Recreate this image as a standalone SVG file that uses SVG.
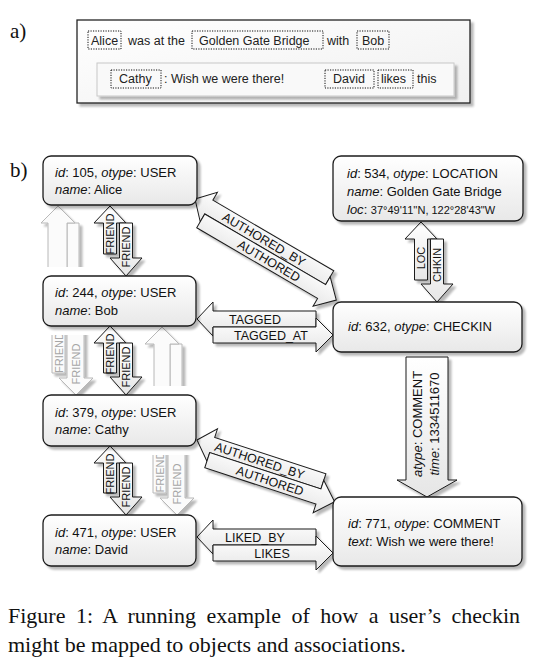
<svg xmlns="http://www.w3.org/2000/svg" width="542" height="666" viewBox="0 0 542 666">
<defs>
<linearGradient id="gN" x1="0" y1="0" x2="0" y2="1"><stop offset="0" stop-color="#ffffff"/><stop offset="1" stop-color="#e8e8e8"/></linearGradient>
<linearGradient id="gA" x1="0" y1="0" x2="0" y2="1"><stop offset="0" stop-color="#ffffff"/><stop offset="1" stop-color="#e6e6e6"/></linearGradient>
<linearGradient id="gP" x1="0" y1="0" x2="1" y2="1"><stop offset="0" stop-color="#ffffff"/><stop offset="1" stop-color="#f0f0f0"/></linearGradient>
<filter id="sh" x="-15%" y="-15%" width="140%" height="140%">
<feGaussianBlur in="SourceAlpha" stdDeviation="1.1"/>
<feOffset dx="3" dy="3"/>
<feComponentTransfer><feFuncA type="linear" slope="0.28"/></feComponentTransfer>
<feMerge><feMergeNode/><feMergeNode in="SourceGraphic"/></feMerge>
</filter>
<clipPath id="cpGU1"><rect x="30" y="190" width="60" height="77"/></clipPath>
<clipPath id="cpGU2"><rect x="135" y="320" width="60" height="66"/></clipPath>
<clipPath id="cpGD1"><rect x="40" y="335" width="65" height="70"/></clipPath>
<clipPath id="cpGD2"><rect x="140" y="455" width="65" height="70"/></clipPath>
</defs>
<style>
.nd{fill:url(#gN);stroke:#1a1a1a;stroke-width:1.3}
.nt{font-family:"Liberation Sans",Arial,sans-serif;font-size:13px;fill:#111}
.sm{font-size:11px}
.i{font-style:italic}
.arr{fill:url(#gA);stroke:#1a1a1a;stroke-width:1}
.gh{fill:#fbfbfb;stroke:#b8b8b8;stroke-width:1}
.al{font-family:"Liberation Sans",Arial,sans-serif;font-size:12.5px;fill:#111}
.fl{font-family:"Liberation Sans",Arial,sans-serif;font-size:11px;fill:#111}
.gl{fill:#a6a6a6}
.dot{fill:none;stroke:#111;stroke-width:1;stroke-dasharray:1.2 1.3}
.at{font-family:"Liberation Sans",Arial,sans-serif;font-size:12.5px;fill:#222}
.cap{font-family:"Liberation Serif","Times New Roman",serif;font-size:22px;fill:#111}
</style>

<rect width="542" height="666" fill="#ffffff"/>

<!-- panel labels -->
<text class="cap" x="10" y="38" style="font-size:21px">a)</text>
<text class="cap" x="10" y="177" style="font-size:21px">b)</text>

<!-- panel a -->
<g id="panel-a">
<rect x="77" y="20" width="393" height="83" fill="url(#gP)" stroke="#222" stroke-width="1.3" filter="url(#sh)"/>
<rect x="97" y="63" width="357" height="33" fill="#f9f9f9" stroke="#c8c8c8" stroke-width="1" filter="url(#sh)"/>
<rect class="dot" x="88" y="31" width="33" height="18"/>
<text class="at" x="91" y="45">Alice</text>
<text class="at" x="128" y="45">was at the</text>
<rect class="dot" x="192" y="31" width="131" height="18"/>
<text class="at" x="199" y="45">Golden Gate Bridge</text>
<text class="at" x="327" y="45">with</text>
<rect class="dot" x="357" y="31" width="32" height="18"/>
<text class="at" x="362" y="45">Bob</text>
<rect class="dot" x="111" y="70" width="50" height="18"/>
<text class="at" x="119" y="83">Cathy</text>
<text class="at" x="164" y="83">: Wish we were there!</text>
<rect class="dot" x="325" y="70" width="49" height="18"/>
<text class="at" x="333" y="83">David</text>
<rect class="dot" x="378" y="70" width="35" height="18"/>
<text class="at" x="381" y="83">likes</text>
<text class="at" x="417" y="83">this</text>
</g>

<!-- connectors -->
<g id="connectors">
 <!-- ghost arrows -->
 <g id="ghost-up-1" clip-path="url(#cpGU1)">
  <g filter="url(#sh)">
   <path class="gh" d="M67,223 L79,223 L79,290 L67,290 Z"/>
   <path class="gh" d="M58,206 L75,223 L67,223 L67,290 L48,290 L48,223 L41,223 Z"/>
  </g>
 </g>
 <g id="ghost-up-2" clip-path="url(#cpGU2)">
  <g filter="url(#sh)">
   <path class="gh" d="M170,344 L182,344 L182,400 L170,400 Z"/>
   <path class="gh" d="M162,327 L179,344 L170,344 L170,400 L154,400 L154,344 L145,344 Z"/>
  </g>
 </g>
 <g id="ghost-down-1" clip-path="url(#cpGD1)">
  <g filter="url(#sh)">
   <path class="gh" d="M52,320 L65,320 L65,373 L52,373 Z"/>
   <path class="gh" d="M76,395 L93,378 L84,378 L84,320 L67,320 L67,378 L59,378 Z"/>
  </g>
  <text class="fl gl" transform="translate(62.5,352.5) rotate(-90)" text-anchor="middle">FRIEND</text>
  <text class="fl gl" transform="translate(79.5,364) rotate(-90)" text-anchor="middle">FRIEND</text>
 </g>
 <g id="ghost-down-2" clip-path="url(#cpGD2)">
  <g filter="url(#sh)">
   <path class="gh" d="M153,440 L166,440 L166,493 L153,493 Z"/>
   <path class="gh" d="M177,515 L194,498 L185,498 L185,440 L168,440 L168,498 L160,498 Z"/>
  </g>
  <text class="fl gl" transform="translate(163.5,472) rotate(-90)" text-anchor="middle">FRIEND</text>
  <text class="fl gl" transform="translate(180.5,484) rotate(-90)" text-anchor="middle">FRIEND</text>
 </g>

 <!-- FRIEND Alice-Bob -->
 <g id="friend-alice-bob" transform="translate(110,206)">
  <g filter="url(#sh)">
   <path class="arr" d="M0,0 L16,17 L6.5,17 L6.5,48 L-6.5,48 L-6.5,17 L-16,17 Z"/>
   <path class="arr" d="M16,70 L32,52 L22.5,52 L22.5,17 L9.5,17 L9.5,52 L0,52 Z"/>
  </g>
  <text class="fl" transform="translate(4,28) rotate(-90)" text-anchor="middle">FRIEND</text>
  <text class="fl" transform="translate(20,41) rotate(-90)" text-anchor="middle">FRIEND</text>
 </g>
 <!-- FRIEND Bob-Cathy -->
 <g id="friend-bob-cathy" transform="translate(110,326)">
  <g filter="url(#sh)">
   <path class="arr" d="M0,0 L16,17 L6.5,17 L6.5,47 L-6.5,47 L-6.5,17 L-16,17 Z"/>
   <path class="arr" d="M16,69 L32,51 L22.5,51 L22.5,17 L9.5,17 L9.5,51 L0,51 Z"/>
  </g>
  <text class="fl" transform="translate(4,28) rotate(-90)" text-anchor="middle">FRIEND</text>
  <text class="fl" transform="translate(20,41) rotate(-90)" text-anchor="middle">FRIEND</text>
 </g>
 <!-- FRIEND Cathy-David -->
 <g id="friend-cathy-david" transform="translate(110,446)">
  <g filter="url(#sh)">
   <path class="arr" d="M0,0 L16,17 L6.5,17 L6.5,47 L-6.5,47 L-6.5,17 L-16,17 Z"/>
   <path class="arr" d="M16,69 L32,51 L22.5,51 L22.5,17 L9.5,17 L9.5,51 L0,51 Z"/>
  </g>
  <text class="fl" transform="translate(4,28) rotate(-90)" text-anchor="middle">FRIEND</text>
  <text class="fl" transform="translate(20,41) rotate(-90)" text-anchor="middle">FRIEND</text>
 </g>
 <!-- LOC / CHKIN -->
 <g id="loc-chkin" transform="translate(421,222)">
  <g filter="url(#sh)">
   <path class="arr" d="M0,0 L16,17 L6.5,17 L6.5,58 L-6.5,58 L-6.5,17 L-16,17 Z"/>
   <path class="arr" d="M16,80 L32,62 L22.5,62 L22.5,17 L9.5,17 L9.5,62 L0,62 Z"/>
  </g>
  <text class="fl" transform="translate(4,36) rotate(-90)" text-anchor="middle">LOC</text>
  <text class="fl" transform="translate(20,43) rotate(-90)" text-anchor="middle">CHKIN</text>
 </g>
 <!-- AUTHORED Alice-Checkin -->
 <g id="authored-alice-checkin">
  <g filter="url(#sh)">
   <g transform="translate(195,199) rotate(30.3)">
    <path class="arr" d="M0,0 L16,-17 L16,-8 L156,-8 L156,8 L16,8 L16,17 Z"/>
    <path class="arr" d="M173,16 L156,-1 L156,8 L16,8 L16,24 L156,24 L156,33 Z"/>
   </g>
  </g>
  <g transform="translate(195,199) rotate(30.3)">
   <text class="al" x="80" y="4.5" text-anchor="middle">AUTHORED_BY</text>
   <text class="al" x="95" y="20.5" text-anchor="middle">AUTHORED</text>
  </g>
 </g>
 <!-- TAGGED Bob-Checkin -->
 <g id="tagged-bob-checkin" transform="translate(197,319)">
  <g filter="url(#sh)">
   <path class="arr" d="M0,0 L16,-17 L16,-8 L119,-8 L119,8 L16,8 L16,17 Z"/>
   <path class="arr" d="M136,16 L119,-1 L119,8 L16,8 L16,24 L119,24 L119,33 Z"/>
  </g>
  <text class="al" x="58" y="4.5" text-anchor="middle">TAGGED</text>
  <text class="al" x="74" y="20.5" text-anchor="middle">TAGGED_AT</text>
 </g>
 <!-- AUTHORED Cathy-Comment -->
 <g id="authored-cathy-comment">
  <g filter="url(#sh)">
   <g transform="translate(197,440) rotate(18.1)">
    <path class="arr" d="M0,0 L16,-17 L16,-8 L133,-8 L133,8 L16,8 L16,17 Z"/>
    <path class="arr" d="M150,16 L133,-1 L133,8 L16,8 L16,24 L133,24 L133,33 Z"/>
   </g>
  </g>
  <g transform="translate(197,440) rotate(18.1)">
   <text class="al" x="66" y="4.5" text-anchor="middle">AUTHORED_BY</text>
   <text class="al" x="82" y="20.5" text-anchor="middle">AUTHORED</text>
  </g>
 </g>
 <!-- LIKED David-Comment -->
 <g id="liked-david-comment" transform="translate(197,537)">
  <g filter="url(#sh)">
   <path class="arr" d="M0,0 L16,-17 L16,-8 L119,-8 L119,8 L16,8 L16,17 Z"/>
   <path class="arr" d="M136,16 L119,-1 L119,8 L16,8 L16,24 L119,24 L119,33 Z"/>
  </g>
  <text class="al" x="58" y="4.5" text-anchor="middle">LIKED_BY</text>
  <text class="al" x="75" y="20.5" text-anchor="middle">LIKES</text>
 </g>
 <!-- COMMENT Checkin-Comment -->
 <g id="comment-checkin-comment">
  <path class="arr" filter="url(#sh)" d="M406,357 L448,357 L448,480 L457,480 L427,497 L397,480 L406,480 Z"/>
  <text class="nt" transform="translate(422,424) rotate(-90)" text-anchor="middle"><tspan class="i">atype</tspan>: COMMENT</text>
  <text class="nt" transform="translate(439,424) rotate(-90)" text-anchor="middle"><tspan class="i">time</tspan>: 1334511670</text>
 </g>
</g>

<!-- nodes -->
<g id="node-alice">
 <rect class="nd" x="43" y="156" width="154" height="49" rx="8" filter="url(#sh)"/>
 <text class="nt" x="55" y="177"><tspan class="i">id</tspan>: 105, <tspan class="i">otype</tspan>: USER</text>
 <text class="nt" x="55" y="194"><tspan class="i">name</tspan>: Alice</text>
</g>
<g id="node-bob">
 <rect class="nd" x="43" y="276" width="153" height="50" rx="8" filter="url(#sh)"/>
 <text class="nt" x="55" y="297"><tspan class="i">id</tspan>: 244, <tspan class="i">otype</tspan>: USER</text>
 <text class="nt" x="55" y="315"><tspan class="i">name</tspan>: Bob</text>
</g>
<g id="node-cathy">
 <rect class="nd" x="43" y="395" width="153" height="51" rx="8" filter="url(#sh)"/>
 <text class="nt" x="55" y="417"><tspan class="i">id</tspan>: 379, <tspan class="i">otype</tspan>: USER</text>
 <text class="nt" x="55" y="434"><tspan class="i">name</tspan>: Cathy</text>
</g>
<g id="node-david">
 <rect class="nd" x="43" y="515" width="153" height="51" rx="8" filter="url(#sh)"/>
 <text class="nt" x="55" y="537"><tspan class="i">id</tspan>: 471, <tspan class="i">otype</tspan>: USER</text>
 <text class="nt" x="55" y="554"><tspan class="i">name</tspan>: David</text>
</g>
<g id="node-location">
 <rect class="nd" x="333" y="156" width="190" height="65" rx="8" filter="url(#sh)"/>
 <text class="nt" x="347" y="178"><tspan class="i">id</tspan>: 534, <tspan class="i">otype</tspan>: LOCATION</text>
 <text class="nt" x="347" y="196"><tspan class="i">name</tspan>: Golden Gate Bridge</text>
 <text class="nt" x="347" y="214"><tspan class="i">loc</tspan>: <tspan class="sm">37°49'11''N, 122°28'43"W</tspan></text>
</g>
<g id="node-checkin">
 <rect class="nd" x="333" y="302" width="189" height="50" rx="8" filter="url(#sh)"/>
 <text class="nt" x="348" y="331"><tspan class="i">id</tspan>: 632, <tspan class="i">otype</tspan>: CHECKIN</text>
</g>
<g id="node-comment">
 <rect class="nd" x="333" y="497" width="189" height="69" rx="8" filter="url(#sh)"/>
 <text class="nt" x="348" y="528"><tspan class="i">id</tspan>: 771, <tspan class="i">otype</tspan>: COMMENT</text>
 <text class="nt" x="348" y="546"><tspan class="i">text</tspan>: Wish we were there!</text>
</g>

<!-- caption -->
<text class="cap" x="8" y="623" word-spacing="5">Figure 1:  A running example of how a user’s checkin</text>
<text class="cap" x="8" y="652">might be mapped to objects and associations.</text>
</svg>
